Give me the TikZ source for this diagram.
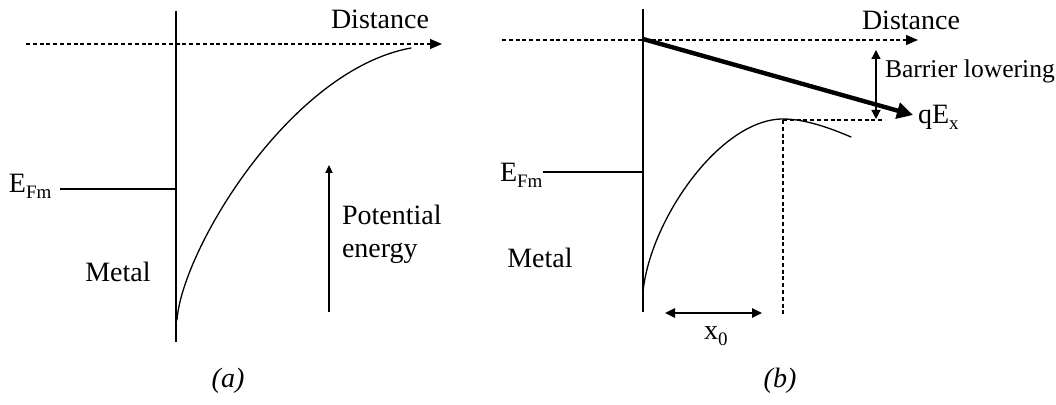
\documentclass[tikz,border=0pt]{standalone}
\usepackage{fontspec}
\setmainfont{Liberation Serif}
\usetikzlibrary{arrows.meta}
\newcommand\lowsub[1]{\raisebox{-0.18em}{\fontsize{9.5}{11}\selectfont #1}}
\begin{document}
\begin{tikzpicture}[x=0.5pt,y=-0.5pt,
  txt/.style={font=\fontsize{14}{16.5}\selectfont, inner sep=0pt, outer sep=0pt},
  wall/.style={line width=0.75pt},
  thinline/.style={line width=0.6pt},
  curveline/.style={line width=0.65pt, line join=round, line cap=round},
  dashline/.style={line width=0.55pt, dash pattern=on 2pt off 1.4pt},
  axisarrow/.style={-{Triangle[length=6pt,width=5pt]}},
  smallarrow/.style={line width=0.6pt, -{Triangle[length=4pt,width=3.6pt]}},
  dblarrow/.style={line width=0.7pt, {Triangle[length=5pt,width=4.8pt]}-{Triangle[length=5pt,width=4.8pt]}},
  barrow/.style={line width=0.6pt, {Triangle[length=4.5pt,width=4.5pt]}-{Triangle[length=4.5pt,width=4.5pt]}},
  heavyarrow/.style={line width=2.2pt, -{Triangle[length=8pt,width=8pt]}}
]
\useasboundingbox (0,0) rectangle (1056,405);

% ---------------- panel (a) ----------------
\coordinate (aTop) at (176,11);
\coordinate (aBot) at (176,342);
\draw[wall] (aTop) -- (aBot);

\coordinate (aDs) at (26,44);
\coordinate (aDe) at (442,44);
\draw[dashline, axisarrow] (aDs) -- (aDe);
\node[txt, anchor=base] (aDist) at (380,29) {Distance};

\coordinate (aCs) at (177,320);
\coordinate (aCe) at (411,48);
\draw[curveline] (aCs) .. controls (182,250) and (290,70) .. (aCe);

\node[txt, anchor=base west] (aEF) at (9,193) {E\lowsub{Fm}};
\coordinate (aEFs) at (60,189);
\coordinate (aEFe) at (175,189);
\draw[thinline] (aEFs) -- (aEFe);

\node[txt, anchor=base] (aMetal) at (118,282) {Metal};

\coordinate (peS) at (329,312);
\coordinate (peE) at (329,165);
\draw[smallarrow] (peS) -- (peE);
\node[txt, anchor=base west] (pe1) at (342,225) {Potential};
\node[txt, anchor=base west] (pe2) at (342,258) {energy};

\node[txt, anchor=base] (alab) at (228,388) {\itshape (a)};

% ---------------- panel (b) ----------------
\coordinate (bTop) at (643,9);
\coordinate (bBot) at (643,312);
\draw[wall] (bTop) -- (bBot);

\coordinate (bDs) at (502,40);
\coordinate (bDe) at (918,40);
\draw[dashline, axisarrow] (bDs) -- (bDe);
\node[txt, anchor=base] (bDist) at (911,30) {Distance};

\coordinate (bOrig) at (643,39);
\coordinate (qTip) at (913,115);
\draw[heavyarrow] (bOrig) -- (qTip);
\node[txt, anchor=base west] (qE) at (918,124) {qE\lowsub{x}};

\coordinate (blTop) at (876,50);
\coordinate (blBot) at (876,119);
\draw[barrow] (blTop) -- (blBot);
\node[txt, font=\fontsize{12.8}{15}\selectfont, anchor=base west] (bl) at (885,78) {Barrier lowering};

\coordinate (peak) at (783,120);
\coordinate (peakR) at (885,120);
\coordinate (peakD) at (783,317);
\draw[dashline] (peak) -- (peakR);
\draw[dashline] (peak) -- (peakD);

\coordinate (bCs) at (643,292);
\coordinate (bCp) at (783,119);
\coordinate (bCe) at (851,137);
\draw[curveline] (bCs) .. controls (650,220) and (720,119) .. (bCp)
  .. controls (805,119) and (830,128) .. (bCe);

\node[txt, anchor=base west] (bEF) at (500,182) {E\lowsub{Fm}};
\coordinate (bEFs) at (543,172);
\coordinate (bEFe) at (642,172);
\draw[thinline] (bEFs) -- (bEFe);

\node[txt, anchor=base] (bMetal) at (540,268) {Metal};

\coordinate (x0L) at (665,313);
\coordinate (x0R) at (762,313);
\draw[dblarrow] (x0L) -- (x0R);
\node[txt, anchor=base west] (x0) at (704,340) {x\lowsub{0}};

\node[txt, anchor=base] (blab) at (780,388) {\itshape (b)};
\end{tikzpicture}
\end{document}
